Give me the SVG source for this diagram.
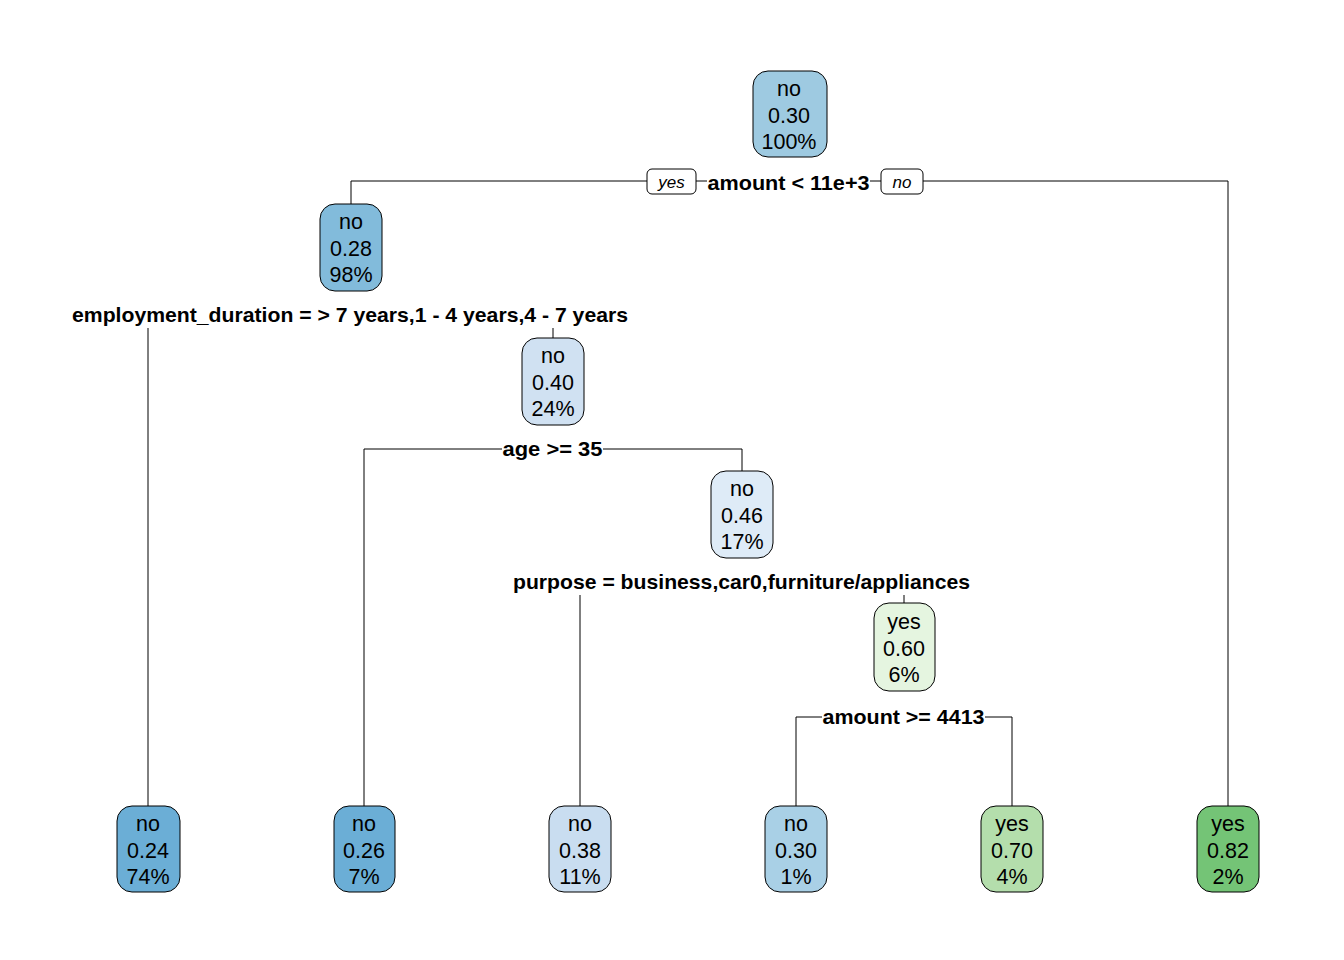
<svg xmlns="http://www.w3.org/2000/svg" width="1344" height="960" viewBox="0 0 1344 960">
  <style>
    .box { stroke: #000; stroke-width: 1; }
    .t { font-family: "Liberation Sans", Arial, sans-serif; font-size: 21.5px; text-anchor: middle; fill: #000; }
    .split { font-family: "Liberation Sans", Arial, sans-serif; font-size: 21px; font-weight: bold; text-anchor: middle; fill: #000; }
    .yn { font-family: "Liberation Sans", Arial, sans-serif; font-size: 17px; font-style: italic; text-anchor: middle; fill: #000; }
    .edge { stroke: #000; stroke-width: 1; fill: none; }
  </style>
  <rect width="1344" height="960" fill="#fff"/>

  <!-- connectors -->
  <g id="connectors" class="edge">
    <polyline points="351,204 351,181 647,181"/>
    <line x1="696" y1="181" x2="707" y2="181"/>
    <line x1="870" y1="181" x2="881" y2="181"/>
    <polyline points="923,181 1228,181 1228,806"/>
    <line x1="148" y1="328" x2="148" y2="806"/>
    <line x1="553" y1="328" x2="553" y2="338"/>
    <polyline points="364,806 364,449 502,449"/>
    <polyline points="603,449 742,449 742,471"/>
    <line x1="580" y1="595" x2="580" y2="806"/>
    <line x1="904" y1="595" x2="904" y2="603"/>
    <polyline points="796,806 796,717 822,717"/>
    <polyline points="985,717 1012,717 1012,806"/>
  </g>

  <!-- yes / no branch tags -->
  <g id="tag-yes">
    <rect x="647" y="169" width="49" height="25" rx="5" fill="#fff" class="box"/>
    <text class="yn" x="671.5" y="187.5">yes</text>
  </g>
  <g id="tag-no">
    <rect x="881" y="169" width="42" height="25" rx="5" fill="#fff" class="box"/>
    <text class="yn" x="902" y="187.5">no</text>
  </g>

  <!-- split labels -->
  <g id="split-labels">
    <text class="split" x="788.5" y="190" textLength="162" lengthAdjust="spacingAndGlyphs">amount &lt; 11e+3</text>
    <text class="split" x="350" y="322" textLength="556" lengthAdjust="spacingAndGlyphs">employment_duration = &gt; 7 years,1 - 4 years,4 - 7 years</text>
    <text class="split" x="552.5" y="456" textLength="100" lengthAdjust="spacingAndGlyphs">age &gt;= 35</text>
    <text class="split" x="741.5" y="589" textLength="457" lengthAdjust="spacingAndGlyphs">purpose = business,car0,furniture/appliances</text>
    <text class="split" x="903.5" y="724" textLength="162" lengthAdjust="spacingAndGlyphs">amount &gt;= 4413</text>
  </g>

  <!-- internal nodes -->
  <g id="node-1">
    <rect x="753" y="71" width="74" height="86" rx="15" fill="#9ECAE1" class="box"/>
    <text class="t" x="789" y="96">no</text>
    <text class="t" x="789" y="122.5">0.30</text>
    <text class="t" x="789" y="149">100%</text>
  </g>
  <g id="node-2">
    <rect x="320" y="204" width="62" height="87" rx="15" fill="#82BBDB" class="box"/>
    <text class="t" x="351" y="229">no</text>
    <text class="t" x="351" y="255.5">0.28</text>
    <text class="t" x="351" y="282">98%</text>
  </g>
  <g id="node-3">
    <rect x="522" y="338" width="62" height="87" rx="15" fill="#D0E1F2" class="box"/>
    <text class="t" x="553" y="363">no</text>
    <text class="t" x="553" y="389.5">0.40</text>
    <text class="t" x="553" y="416">24%</text>
  </g>
  <g id="node-4">
    <rect x="711" y="471" width="62" height="87" rx="15" fill="#DEEBF7" class="box"/>
    <text class="t" x="742" y="496">no</text>
    <text class="t" x="742" y="522.5">0.46</text>
    <text class="t" x="742" y="549">17%</text>
  </g>
  <g id="node-5">
    <rect x="874" y="603" width="61" height="88" rx="15" fill="#E5F5E0" class="box"/>
    <text class="t" x="904" y="629">yes</text>
    <text class="t" x="904" y="655.5">0.60</text>
    <text class="t" x="904" y="682">6%</text>
  </g>

  <!-- leaves -->
  <g id="leaf-1">
    <rect x="117" y="806" width="63" height="86" rx="15" fill="#6BAED6" class="box"/>
    <text class="t" x="148" y="831">no</text>
    <text class="t" x="148" y="857.5">0.24</text>
    <text class="t" x="148" y="884">74%</text>
  </g>
  <g id="leaf-2">
    <rect x="334" y="806" width="61" height="86" rx="15" fill="#6BAED6" class="box"/>
    <text class="t" x="364" y="831">no</text>
    <text class="t" x="364" y="857.5">0.26</text>
    <text class="t" x="364" y="884">7%</text>
  </g>
  <g id="leaf-3">
    <rect x="549" y="806" width="62" height="86" rx="15" fill="#C9DDF0" class="box"/>
    <text class="t" x="580" y="831">no</text>
    <text class="t" x="580" y="857.5">0.38</text>
    <text class="t" x="580" y="884">11%</text>
  </g>
  <g id="leaf-4">
    <rect x="765" y="806" width="62" height="86" rx="15" fill="#A9D0E6" class="box"/>
    <text class="t" x="796" y="831">no</text>
    <text class="t" x="796" y="857.5">0.30</text>
    <text class="t" x="796" y="884">1%</text>
  </g>
  <g id="leaf-5">
    <rect x="981" y="806" width="62" height="86" rx="15" fill="#B4DEAC" class="box"/>
    <text class="t" x="1012" y="831">yes</text>
    <text class="t" x="1012" y="857.5">0.70</text>
    <text class="t" x="1012" y="884">4%</text>
  </g>
  <g id="leaf-6">
    <rect x="1197" y="806" width="62" height="86" rx="15" fill="#74C476" class="box"/>
    <text class="t" x="1228" y="831">yes</text>
    <text class="t" x="1228" y="857.5">0.82</text>
    <text class="t" x="1228" y="884">2%</text>
  </g>
</svg>
